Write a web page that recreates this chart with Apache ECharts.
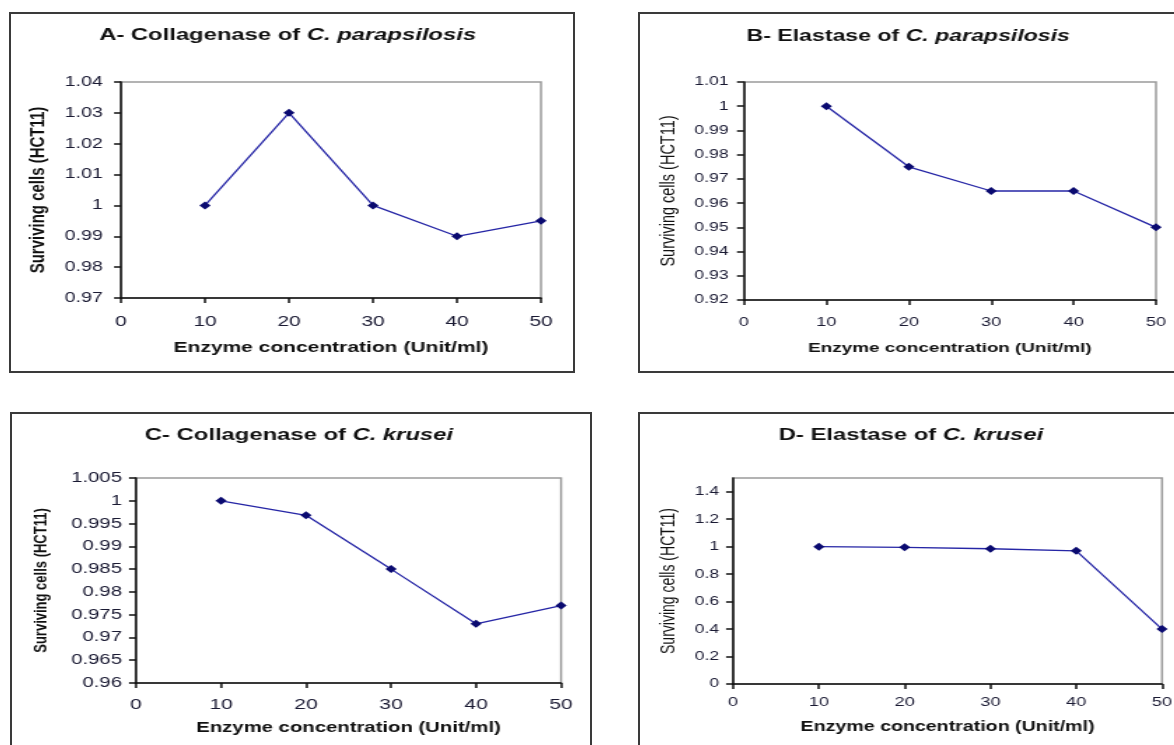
<!DOCTYPE html>
<html>
<head>
<meta charset="utf-8">
<script src="https://cdn.jsdelivr.net/npm/echarts@6/dist/echarts.min.js"></script>
<style>
  html, body { margin: 0; padding: 0; background: #fff; }
  body { width: 1174px; height: 745px; position: relative; overflow: hidden; }
  .chart { position: absolute; transform: scaleX(1.4); transform-origin: 0 0; }
  .frame { position: absolute; box-sizing: border-box; border: 2px solid #3a3a3a; pointer-events: none; }
</style>
</head>
<body>
<div id="pa" class="chart" style="left:9px;top:12px;width:404px;height:361px"></div>
<div id="pb" class="chart" style="left:638px;top:12px;width:400px;height:361px"></div>
<div id="pc" class="chart" style="left:10px;top:412px;width:416px;height:360px"></div>
<div id="pd" class="chart" style="left:638px;top:412px;width:400px;height:360px"></div>
<div class="frame" style="left:9px;top:12px;width:566px;height:361px"></div>
<div class="frame" style="left:638px;top:12px;width:560px;height:361px"></div>
<div class="frame" style="left:10px;top:412px;width:582px;height:360px"></div>
<div class="frame" style="left:638px;top:412px;width:560px;height:360px"></div>
<script>
// enzyme concentration (Unit/ml)
var conc = [10, 20, 30, 40, 50];
// surviving cells (HCT11)
var collagenaseParap = [1.0, 1.03, 1.0, 0.99, 0.995];
var elastaseParap = [1.0, 0.975, 0.965, 0.965, 0.95];
var collagenaseKrusei = [1.0, 0.9968, 0.985, 0.973, 0.977];
var elastaseKrusei = [1.0, 0.995, 0.985, 0.97, 0.4];

var FONT = '"Liberation Sans", Arial, sans-serif';

var pairs = function(ys){
    return conc.map(function(x, i){ return [x, ys[i]]; });
};

function panel(id, c){
    var chart = echarts.init(document.getElementById(id));
    chart.setOption({
        animation: false,
        textStyle: { fontFamily: FONT },
        title: {
            text: '{n|' + c.head + '}{i|' + c.species + '}',
            left: c.titleX,
            top: c.titleY,
            padding: 0,
            textAlign: 'center',
            textStyle: {
                rich: {
                    n: { fontFamily: FONT, fontSize: c.titleSize, fontWeight: 'bold', color: '#111' },
                    i: { fontFamily: FONT, fontSize: c.titleSize, fontWeight: 'bold', fontStyle: 'italic', color: '#111' }
                }
            }
        },
        grid: {
            left: c.grid[0], top: c.grid[1], width: c.grid[2], height: c.grid[3],
            show: true, borderColor: '#9a9a9a', borderWidth: 1.5, backgroundColor: '#fff'
        },
        xAxis: {
            type: 'value',
            min: 0, max: 50, interval: 10,
            name: 'Enzyme concentration (Unit/ml)',
            nameLocation: 'middle',
            nameGap: c.xNameGap,
            nameTextStyle: { fontFamily: FONT, fontSize: c.xNameSize, fontWeight: 'bold', color: '#111' },
            axisLine: { lineStyle: { color: '#111', width: 1.5 } },
            axisTick: { length: 5, lineStyle: { color: '#111', width: 1.5 } },
            axisLabel: { margin: c.xLabelGap, fontSize: c.xTickSize, color: '#1a1a33', fontFamily: FONT },
            splitLine: { show: false }
        },
        yAxis: {
            type: 'value',
            min: c.yMin, max: c.yMax, interval: c.yStep,
            name: 'Surviving cells (HCT11)',
            nameLocation: 'middle',
            nameGap: c.yNameGap,
            nameTextStyle: { fontFamily: FONT, fontSize: c.yNameSize, fontWeight: c.yNameBold ? 'bold' : 'normal', color: '#111' },
            axisLine: { lineStyle: { color: '#111', width: 1.5 } },
            axisTick: { length: 5, lineStyle: { color: '#111', width: 1.5 } },
            axisLabel: {
                margin: c.yLabelGap, fontSize: c.yTickSize, color: '#1a1a33', fontFamily: FONT,
                showMaxLabel: c.showMax !== false,
                formatter: function(v){ return String(+v.toFixed(3)); }
            },
            splitLine: { show: false }
        },
        series: [{
            type: 'line',
            data: pairs(c.values),
            symbol: 'diamond',
            symbolSize: 8,
            lineStyle: { color: '#2626a6', width: 1.3 },
            itemStyle: { color: '#0a0a70' }
        }]
    });
}

panel('pa', {
    head: 'A- Collagenase of ', species: 'C. parapsilosis',
    titleX: 199, titleY: 15, titleSize: 17,
    grid: [80, 70, 300, 216],
    values: collagenaseParap, yMin: 0.97, yMax: 1.04, yStep: 0.01,
    xNameGap: 42, xNameSize: 15, xLabelGap: 16, xTickSize: 15,
    yNameGap: 46, yNameSize: 15, yNameBold: true, yLabelGap: 13, yTickSize: 14
});

panel('pb', {
    head: 'B- Elastase of ', species: 'C. parapsilosis',
    titleX: 193, titleY: 16, titleSize: 16.5,
    grid: [75.7, 70, 294.3, 218],
    values: elastaseParap, yMin: 0.92, yMax: 1.01, yStep: 0.01,
    xNameGap: 41, xNameSize: 13.5, xLabelGap: 16, xTickSize: 13,
    yNameGap: 46, yNameSize: 14.5, yNameBold: false, yLabelGap: 11, yTickSize: 12.5
});

panel('pc', {
    head: 'C- Collagenase of ', species: 'C. krusei',
    titleX: 206.4, titleY: 14.5, titleSize: 17,
    grid: [90, 66, 303.6, 205],
    values: collagenaseKrusei, yMin: 0.96, yMax: 1.005, yStep: 0.005,
    xNameGap: 37, xNameSize: 14.5, xLabelGap: 14, xTickSize: 15,
    yNameGap: 61, yNameSize: 13, yNameBold: true, yLabelGap: 10, yTickSize: 14.5
});

panel('pd', {
    head: 'D- Elastase of ', species: 'C. krusei',
    titleX: 195, titleY: 14.5, titleSize: 17,
    grid: [67.9, 66, 306.4, 206],
    values: elastaseKrusei, yMin: 0, yMax: 1.5, yStep: 0.2, showMax: false,
    xNameGap: 36, xNameSize: 14, xLabelGap: 12, xTickSize: 13,
    yNameGap: 37, yNameSize: 14, yNameBold: false, yLabelGap: 10, yTickSize: 12.5
});
</script>
</body>
</html>
